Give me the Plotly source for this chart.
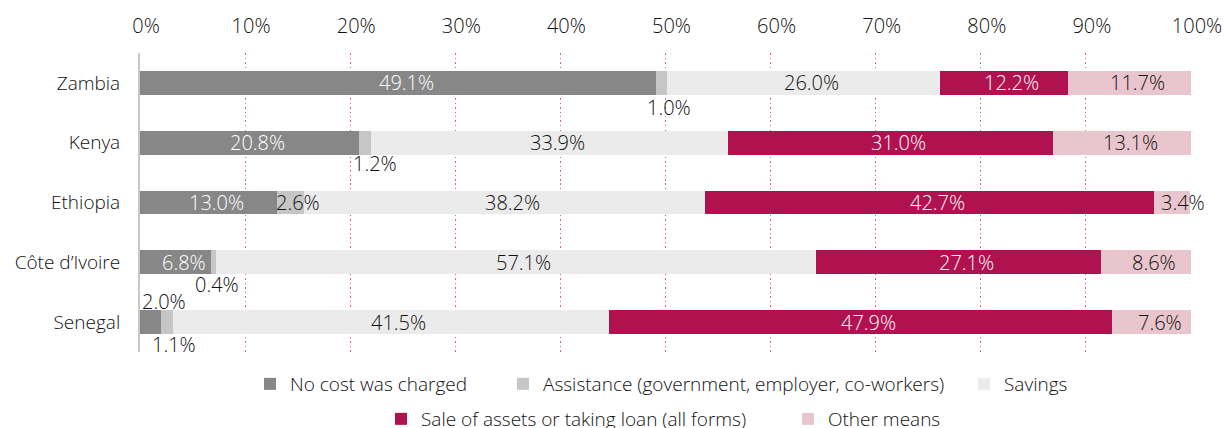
import plotly.graph_objects as go

# Share of households by how the cost was covered, per country (%)
countries = ["Zambia", "Kenya", "Ethiopia", "Côte d’Ivoire", "Senegal"]
series_names = [
    "No cost was charged",
    "Assistance (government, employer, co-workers)",
    "Savings",
    "Sale of assets or taking loan (all forms)",
    "Other means",
]
no_cost = [49.1, 20.8, 13.0, 6.8, 2.0]
assistance = [1.0, 1.2, 2.6, 0.4, 1.1]
savings = [26.0, 33.9, 38.2, 57.1, 41.5]
sale_loan = [12.2, 31.0, 42.7, 27.1, 47.9]
other_means = [11.7, 13.1, 3.4, 8.6, 7.6]
tick_values = [0, 10, 20, 30, 40, 50, 60, 70, 80, 90, 100]
tick_labels = [f"{t}%" for t in tick_values]

series_values = [no_cost, assistance, savings, sale_loan, other_means]
colors = ["#878787", "#c6c6c6", "#ebebeb", "#b01250", "#e9c6cd"]
label_colors = ["#ffffff", "#111111", "#111111", "#ffffff", "#111111"]
legend_ids = ["legend", "legend2", "legend3", "legend4", "legend5"]

FONT = "Open Sans"
WEIGHT = 350
TEXT = "#111111"

# Margins define the plot box: x 140..1191, y 53..352
ML, MR, MT, MB = 140, 35, 53, 76
W, H = 1226, 428
PW = W - ML - MR
PH = H - MT - MB

fig = go.Figure()
for name, vals, col, lg in zip(series_names, series_values, colors, legend_ids):
    fig.add_trace(go.Bar(
        y=countries, x=vals, name=name, orientation="h",
        marker=dict(color=col, line=dict(width=0)),
        legend=lg, hoverinfo="name+x",
    ))

# Value labels; small segments get their label nudged beside the bar
offsets = {
    (0, 1): (8, -25),
    (1, 1): (10, -21),
    (2, 1): (8, 0),
    (2, 4): (11, 0),
    (3, 1): (3, -22),
    (4, 0): (13, 21),
    (4, 1): (7, -22),
}
annotations = []
for r, country in enumerate(countries):
    start = 0.0
    for s, vals in enumerate(series_values):
        v = vals[r]
        xs, ys = offsets.get((r, s), (8, 0))
        color = label_colors[s] if (r, s) not in offsets else TEXT
        annotations.append(dict(
            x=start + v / 2, y=country, xref="x", yref="y",
            text=f"{v:.1f}%", showarrow=False, xanchor="center",
            xshift=xs, yshift=ys,
            font=dict(family=FONT, size=20, color=color, weight=WEIGHT),
        ))
        start += v


def px_to_paper_x(px):
    return (px - ML) / PW


def px_to_paper_y(py):
    return (H - MB - py) / PH


# Legend entries: (text start x, row centre y)
legend_pos = [(290, 384), (543, 384), (1004, 384), (421, 419), (828, 419)]
legend_layout = {}
for lg, (tx, cy) in zip(legend_ids, legend_pos):
    legend_layout[lg] = dict(
        x=px_to_paper_x(tx - 40), y=px_to_paper_y(cy),
        xanchor="left", yanchor="middle", orientation="h",
        bgcolor="rgba(0,0,0,0)", borderwidth=0,
        font=dict(family=FONT, size=19, color=TEXT, weight=WEIGHT),
    )

fig.update_layout(
    width=W, height=H,
    margin=dict(l=ML, r=MR, t=MT, b=MB, autoexpand=False),
    barmode="stack", bargap=0.6,
    plot_bgcolor="white", paper_bgcolor="white",
    font=dict(family=FONT, size=18, color=TEXT, weight=WEIGHT),
    annotations=annotations,
    showlegend=True,
    **legend_layout,
)
fig.update_xaxes(
    side="top", range=[0, 100], tickvals=tick_values, ticktext=tick_labels,
    showgrid=True, gridcolor="#d8608a", gridwidth=1, griddash="1.5px,3px",
    zeroline=False, showline=False, ticks="",
    ticklabelstandoff=15, ticklabelshift=6,
    tickfont=dict(family=FONT, size=20, color=TEXT, weight=WEIGHT),
    fixedrange=True,
)
fig.update_yaxes(
    type="category", range=[len(countries) - 0.5, -0.5],
    showgrid=False, zeroline=False,
    showline=True, linecolor="#c8c8c8", linewidth=2,
    ticks="", ticklabelstandoff=14,
    tickfont=dict(family=FONT, size=19, color=TEXT, weight=WEIGHT),
    fixedrange=True,
)

fig.write_html("out.html")
